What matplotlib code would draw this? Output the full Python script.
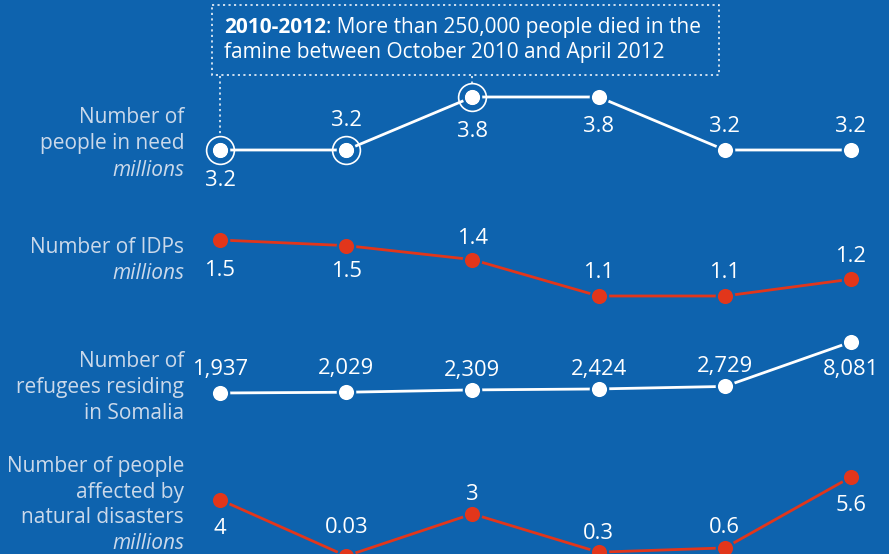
import matplotlib
matplotlib.use("Agg")
import matplotlib.pyplot as plt
from matplotlib.patches import Rectangle
import numpy as np

# ---------------- data ----------------
need_values = [3.2, 3.2, 3.8, 3.8, 3.2, 3.2]
need_labels = ["3.2", "3.2", "3.8", "3.8", "3.2", "3.2"]

idp_values = [1.50, 1.46, 1.36, 1.10, 1.10, 1.22]
idp_labels = ["1.5", "1.5", "1.4", "1.1", "1.1", "1.2"]

refugee_values = [1937, 2029, 2309, 2424, 2729, 8081]
refugee_labels = ["1,937", "2,029", "2,309", "2,424", "2,729", "8,081"]

disaster_values = [4, 0.03, 3, 0.3, 0.6, 5.6]
disaster_labels = ["4", "0.03", "3", "0.3", "0.6", "5.6"]

row_titles = [
    ["Number of", "people in need", "*millions"],
    ["Number of IDPs", "*millions"],
    ["Number of", "refugees residing", "in Somalia"],
    ["Number of people", "affected by", "natural disasters", "*millions"],
]
note_bold = "2010-2012"
note_line1 = ": More than 250,000 people died in the"
note_line2 = "famine between October 2010 and April 2012"

# ---------------- style ----------------
W, H = 889, 554
BG = "#0E63AE"
RED = "#E2361B"
WHITE = "#FFFFFF"
GREY = "#CBD9EA"
FONT = "Open Sans"
FS_VAL = 15.8
FS_NOTE = 15
FS_TITLE = 15

plt.rcParams["font.family"] = [FONT, "DejaVu Sans"]

fig = plt.figure(figsize=(W / 100, H / 100), dpi=100, facecolor=BG)

# overlay axes in pixel coordinates (for text / annotation box)
ov = fig.add_axes([0, 0, 1, 1])
ov.set_xlim(0, W)
ov.set_ylim(H, 0)
ov.axis("off")
ov.patch.set_alpha(0)

X_LEFT, X_RIGHT = 220, 851

rows = [
    dict(vals=need_values, labels=need_labels, color=WHITE, px=(150, 97),
         offs=[-36, 24, -40, -35, 18, 18], title_base=[123, 149, 176]),
    dict(vals=idp_values, labels=idp_labels, color=RED, px=(296, 240),
         offs=[-36, -31, 16, 18, 18, 17], title_base=[253, 279]),
    dict(vals=refugee_values, labels=refugee_labels, color=WHITE, px=(393, 342),
         offs=[18, 18, 14, 14, 14, -33], title_base=[367, 393, 419]),
    dict(vals=disaster_values, labels=disaster_labels, color=RED, px=(556, 477),
         offs=[-34, 23, 14, 13, 15, -34], title_base=[472, 498, 523, 549]),
]

x = np.arange(6)
axes = []
for r, titles in zip(rows, row_titles):
    vals = r["vals"]
    plo, phi = r["px"]
    ax = fig.add_axes([X_LEFT / W, 1 - plo / H, (X_RIGHT - X_LEFT) / W, (plo - phi) / H])
    ax.set_xlim(0, 5)
    ax.set_ylim(min(vals), max(vals))
    ax.axis("off")
    ax.patch.set_alpha(0)
    ax.plot(x, vals, color=r["color"], lw=2.0, marker="o", ms=12.5,
            mfc=r["color"], mec=BG, mew=1.6, clip_on=False, zorder=3,
            solid_capstyle="butt")
    for xi, v, lab, off in zip(x, vals, r["labels"], r["offs"]):
        ax.annotate(lab, (xi, v), xytext=(0, off), textcoords="offset pixels",
                    ha="center", va="baseline", color=WHITE, fontsize=FS_VAL,
                    annotation_clip=False)
    for t, yb in zip(titles, r["title_base"]):
        style = "normal"
        if t.startswith("*"):
            t = t[1:]
            style = "italic"
        ov.text(184, yb, t, ha="right", va="baseline", color=GREY,
                fontsize=FS_TITLE, fontstyle=style)
    axes.append(ax)

# rings around the famine years
ax1 = axes[0]
ax1.plot(x[:3], need_values[:3], ls="none", marker="o", ms=20, mfc=BG,
         mec=WHITE, mew=1.2, clip_on=False, zorder=2.5)
ax1.plot(x[:3], need_values[:3], ls="none", marker="o", ms=10.5, mfc=WHITE,
         mec=WHITE, mew=0, clip_on=False, zorder=4)

# annotation box
box = Rectangle((212, 5), 507, 70, fill=False, ec=WHITE, lw=1.1,
                ls=(0, (1.4, 2.2)))
ov.add_patch(box)
tb = ov.text(224, 33, note_bold, ha="left", va="baseline", color=WHITE,
             fontsize=FS_NOTE, fontweight="bold")
fig.canvas.draw()
bb = tb.get_window_extent()
xd = ov.transData.inverted().transform((bb.x1, 0))[0]
ov.text(xd, 33, note_line1, ha="left", va="baseline", color=WHITE, fontsize=FS_NOTE)
ov.text(224, 58, note_line2, ha="left", va="baseline", color=WHITE, fontsize=FS_NOTE)

# dotted connectors from box to the first and third points
for i, ybot in [(0, 136), (2, 84)]:
    px_x = ax1.transData.transform((x[i], need_values[i]))[0]
    xd = ov.transData.inverted().transform((px_x, 0))[0]
    ov.plot([xd, xd], [76, ybot], color=WHITE, lw=1.1, ls=(0, (1.4, 2.2)))

fig.savefig("out.png", dpi=100, facecolor=BG)
